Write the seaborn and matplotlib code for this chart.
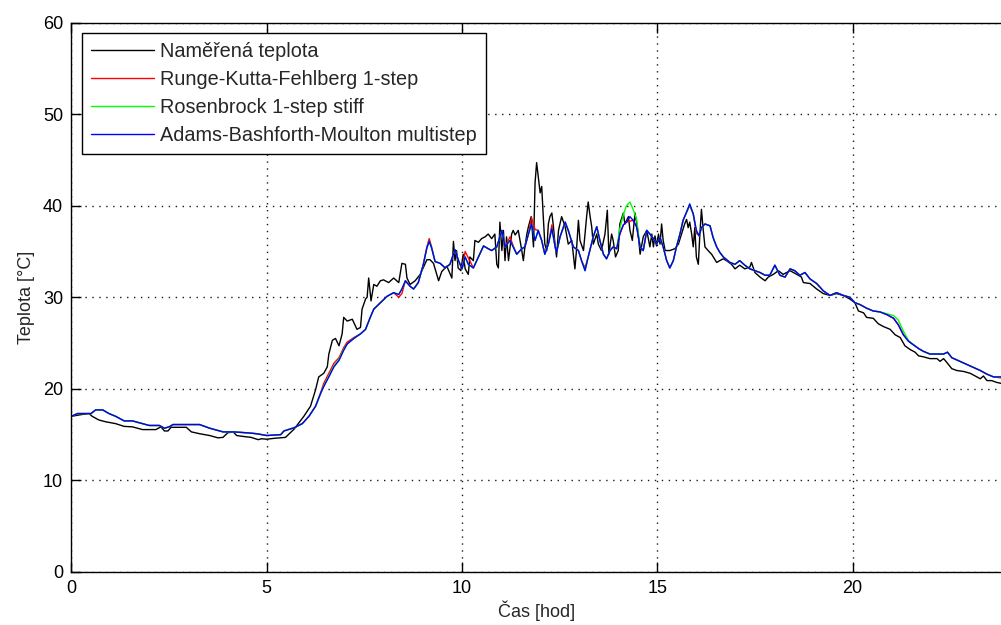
import matplotlib
matplotlib.use("Agg")
import matplotlib.pyplot as plt
import seaborn as sns
import pandas as pd

# Measured air temperature over one day
t_meas = [0.0, 0.27, 0.45, 0.53, 0.7, 0.88, 1.13, 1.35, 1.56, 1.82,
          2.16, 2.29, 2.38, 2.47, 2.55, 2.68, 2.94, 3.07, 3.28, 3.54,
          3.75, 3.88, 4.0, 4.14, 4.23, 4.4, 4.6, 4.78, 4.87, 5.0,
          5.2, 5.48, 5.7, 5.95, 6.12, 6.25, 6.33, 6.46, 6.55, 6.59,
          6.68, 6.76, 6.85, 6.93, 6.97, 7.06, 7.19, 7.31, 7.4, 7.44,
          7.53, 7.57, 7.61, 7.67, 7.74, 7.82, 7.91, 7.99, 8.12, 8.25,
          8.38, 8.46, 8.55, 8.59, 8.67, 8.8, 8.93, 9.1, 9.18, 9.27,
          9.4, 9.48, 9.61, 9.74, 9.78, 9.82, 9.86, 9.9, 9.97, 10.03,
          10.08, 10.16, 10.2, 10.29, 10.33, 10.42, 10.5, 10.59, 10.67, 10.76,
          10.84, 10.89, 10.93, 10.97, 11.02, 11.06, 11.1, 11.14, 11.19, 11.23,
          11.27, 11.31, 11.36, 11.44, 11.53, 11.57, 11.61, 11.66, 11.7, 11.77,
          11.83, 11.87, 11.91, 11.95, 12.0, 12.04, 12.08, 12.12, 12.17, 12.21,
          12.25, 12.3, 12.34, 12.38, 12.42, 12.47, 12.55, 12.64, 12.72, 12.81,
          12.89, 12.93, 12.98, 13.02, 13.11, 13.19, 13.23, 13.28, 13.32, 13.36,
          13.45, 13.49, 13.57, 13.66, 13.72, 13.76, 13.83, 13.87, 13.93, 14.0,
          14.04, 14.13, 14.17, 14.26, 14.3, 14.36, 14.43, 14.5, 14.56, 14.64,
          14.73, 14.81, 14.86, 14.9, 14.94, 14.98, 15.03, 15.07, 15.11, 15.15,
          15.2, 15.32, 15.45, 15.54, 15.62, 15.7, 15.75, 15.79, 15.83, 15.88,
          15.92, 15.96, 16.0, 16.05, 16.09, 16.13, 16.17, 16.22, 16.3, 16.39,
          16.52, 16.6, 16.69, 16.77, 16.9, 16.99, 17.11, 17.24, 17.37, 17.41,
          17.5, 17.63, 17.76, 17.84, 17.97, 18.1, 18.22, 18.4, 18.57, 18.69,
          18.74, 18.91, 19.08, 19.25, 19.42, 19.59, 19.76, 19.93, 20.06, 20.15,
          20.28, 20.36, 20.53, 20.66, 20.79, 20.96, 21.09, 21.22, 21.34, 21.47,
          21.6, 21.69, 21.81, 21.98, 22.16, 22.24, 22.33, 22.41, 22.54, 22.67,
          22.84, 23.01, 23.18, 23.27, 23.35, 23.44, 23.56, 23.69, 23.8]
temp_meas = [17.0, 17.2, 17.3, 17.0, 16.6, 16.4, 16.2, 15.9, 15.85, 15.55,
             15.55, 15.85, 15.4, 15.4, 15.8, 15.8, 15.8, 15.3, 15.1, 14.9,
             14.65, 14.7, 15.2, 15.3, 14.9, 14.8, 14.7, 14.45, 14.55, 14.5,
             14.6, 14.7, 15.6, 17.0, 18.1, 19.9, 21.3, 21.7, 22.4, 23.8,
             25.3, 25.5, 24.7, 26.0, 27.8, 27.4, 27.6, 26.5, 26.7, 28.7,
             29.8, 30.0, 32.1, 29.6, 31.4, 31.2, 31.8, 31.9, 31.6, 32.1,
             31.6, 33.7, 33.6, 32.1, 31.4, 31.8, 32.5, 34.1, 34.1, 33.7,
             31.8, 32.8, 33.4, 32.1, 36.1, 34.0, 35.1, 33.2, 32.9, 34.7,
             33.1, 32.5, 34.4, 34.0, 36.2, 36.0, 36.4, 36.6, 36.9, 36.4,
             36.9, 33.6, 33.2, 38.2, 35.1, 37.3, 34.0, 36.6, 34.0, 35.5,
             36.9, 37.3, 36.8, 37.3, 35.1, 34.0, 35.5, 36.9, 37.7, 38.8,
             35.5, 42.5, 44.7, 43.2, 41.4, 42.1, 38.8, 35.8, 35.1, 38.0,
             38.8, 39.2, 37.7, 35.8, 34.4, 37.3, 38.8, 37.7, 35.8, 36.2,
             33.1, 35.1, 38.4, 36.2, 35.1, 38.8, 40.4, 38.8, 37.7, 35.8,
             36.9, 35.8, 35.1, 36.9, 39.5, 34.7, 36.9, 36.2, 34.4, 35.1,
             38.0, 39.2, 38.0, 38.8, 37.3, 36.2, 39.2, 37.3, 34.7, 36.6,
             37.3, 35.5, 36.9, 35.5, 36.7, 35.6, 36.9, 35.8, 38.0, 36.2,
             35.1, 35.1, 35.3, 35.8, 36.9, 38.0, 38.5, 37.6, 38.2, 36.9,
             35.5, 37.6, 34.4, 33.6, 36.9, 39.6, 37.6, 35.5, 35.1, 34.7,
             33.8, 34.0, 34.2, 34.0, 33.6, 33.1, 33.5, 33.1, 33.3, 33.8,
             32.7, 32.2, 31.8, 32.2, 32.5, 32.9, 32.5, 32.9, 32.5, 32.2,
             31.6, 31.5, 30.9, 30.4, 30.2, 30.4, 30.2, 29.8, 29.4, 28.5,
             28.3, 27.8, 27.7, 27.1, 26.8, 26.5, 25.9, 25.6, 24.7, 24.3,
             24.0, 23.6, 23.5, 23.3, 23.3, 23.0, 23.3, 22.9, 22.2, 22.0,
             21.9, 21.7, 21.3, 21.1, 21.4, 20.9, 20.9, 20.7, 20.6]

# Simulated temperature from three ODE solvers (shared time grid)
t_model = [0.0, 0.15, 0.5, 0.62, 0.8, 0.96, 1.13, 1.35, 1.56, 1.82,
           1.99, 2.25, 2.38, 2.5, 2.6, 2.94, 3.28, 3.54, 3.88, 4.14,
           4.49, 4.74, 5.0, 5.36, 5.44, 5.7, 5.91, 6.08, 6.25, 6.38,
           6.46, 6.59, 6.72, 6.85, 6.97, 7.06, 7.23, 7.4, 7.53, 7.65,
           7.74, 7.91, 8.08, 8.25, 8.38, 8.46, 8.55, 8.67, 8.76, 8.88,
           9.01, 9.1, 9.16, 9.22, 9.31, 9.44, 9.57, 9.69, 9.82, 9.91,
           10.0, 10.08, 10.16, 10.29, 10.42, 10.55, 10.67, 10.76, 10.89, 11.02,
           11.1, 11.23, 11.31, 11.4, 11.53, 11.61, 11.7, 11.78, 11.87, 11.95,
           12.04, 12.12, 12.21, 12.3, 12.38, 12.42, 12.51, 12.64, 12.72, 12.85,
           12.98, 13.06, 13.15, 13.23, 13.36, 13.45, 13.53, 13.62, 13.7, 13.79,
           13.87, 13.96, 14.04, 14.13, 14.21, 14.3, 14.38, 14.47, 14.56, 14.64,
           14.73, 14.81, 14.9, 14.98, 15.07, 15.15, 15.24, 15.32, 15.41, 15.49,
           15.58, 15.66, 15.75, 15.83, 15.92, 16.0, 16.07, 16.13, 16.22, 16.35,
           16.43, 16.52, 16.6, 16.69, 16.86, 16.99, 17.11, 17.24, 17.37, 17.5,
           17.63, 17.76, 17.88, 18.01, 18.14, 18.27, 18.4, 18.52, 18.65, 18.78,
           18.91, 19.08, 19.25, 19.42, 19.59, 19.76, 19.93, 20.06, 20.19, 20.36,
           20.53, 20.7, 20.88, 21.05, 21.17, 21.3, 21.43, 21.56, 21.69, 21.81,
           21.98, 22.16, 22.33, 22.43, 22.54, 22.75, 23.01, 23.27, 23.44, 23.61,
           23.8]
temp_rkf = [17.0, 17.3, 17.3, 17.7, 17.7, 17.3, 17.0, 16.5, 16.5, 16.2,
            16.0, 16.0, 15.7, 15.85, 16.1, 16.1, 16.1, 15.7, 15.3, 15.3,
            15.2, 15.1, 14.9, 15.0, 15.4, 15.75, 16.2, 17.0, 18.1, 19.6,
            20.6, 21.7, 22.8, 23.4, 24.5, 25.1, 25.6, 26.0, 26.5, 27.8,
            28.7, 29.4, 30.1, 30.5, 30.0, 30.4, 31.8, 31.2, 30.9, 31.6,
            33.6, 35.5, 36.4, 35.5, 33.9, 33.7, 33.2, 33.6, 35.2, 34.0,
            33.1, 35.0, 34.3, 33.2, 34.4, 35.6, 35.3, 35.1, 35.5, 37.3,
            35.5, 36.6, 35.6, 34.7, 35.3, 35.5, 36.9, 38.7, 37.4, 37.3,
            36.2, 34.7, 35.8, 37.9, 35.6, 34.9, 36.6, 38.2, 37.3, 35.5,
            35.1, 34.0, 33.2, 34.4, 36.6, 37.7, 36.2, 34.7, 34.2, 35.1,
            35.5, 35.3, 36.9, 37.9, 38.2, 38.3, 38.4, 37.7, 35.5, 35.1,
            37.3, 36.9, 36.4, 35.8, 36.5, 35.5, 34.0, 33.2, 34.0, 35.5,
            36.9, 38.4, 39.3, 40.0, 39.1, 37.0, 36.7, 37.6, 38.0, 37.8,
            36.5, 35.5, 34.9, 34.4, 33.8, 33.6, 34.0, 33.5, 33.1, 32.9,
            32.7, 32.4, 32.4, 33.5, 32.4, 32.2, 33.1, 32.9, 32.4, 32.7,
            32.0, 31.5, 30.7, 30.2, 30.5, 30.2, 30.0, 29.4, 29.2, 28.8,
            28.5, 28.4, 28.1, 27.7, 27.0, 25.9, 25.2, 24.8, 24.4, 24.1,
            23.8, 23.8, 23.8, 24.0, 23.4, 23.0, 22.5, 22.0, 21.6, 21.3,
            21.2]
temp_ros = [17.0, 17.3, 17.3, 17.7, 17.7, 17.3, 17.0, 16.5, 16.5, 16.2,
            16.0, 16.0, 15.7, 15.85, 16.1, 16.1, 16.1, 15.7, 15.3, 15.3,
            15.2, 15.1, 14.9, 15.0, 15.4, 15.75, 16.2, 17.0, 18.1, 19.5,
            20.3, 21.4, 22.5, 23.2, 24.3, 24.9, 25.5, 26.0, 26.5, 27.8,
            28.7, 29.4, 30.1, 30.5, 30.3, 30.9, 31.8, 31.2, 30.9, 31.6,
            33.6, 35.4, 36.1, 35.4, 33.9, 33.7, 33.2, 33.6, 35.2, 34.0,
            33.1, 34.4, 33.6, 33.2, 34.4, 35.6, 35.3, 35.1, 35.5, 37.3,
            35.5, 36.2, 35.5, 34.7, 35.3, 35.5, 36.9, 38.0, 36.2, 37.3,
            36.2, 34.7, 35.8, 37.5, 35.6, 34.9, 36.6, 38.2, 37.3, 35.5,
            35.1, 34.0, 32.9, 34.4, 36.6, 37.7, 36.2, 34.7, 34.2, 35.1,
            35.5, 35.3, 37.5, 39.0, 40.0, 40.4, 39.6, 38.5, 35.5, 35.1,
            37.3, 36.9, 36.4, 35.8, 36.5, 35.5, 34.0, 33.2, 34.0, 35.5,
            36.9, 38.4, 39.3, 40.1, 39.1, 37.3, 36.7, 37.6, 38.0, 37.8,
            36.5, 35.5, 34.9, 34.4, 33.8, 33.6, 34.0, 33.5, 33.1, 32.9,
            32.7, 32.4, 32.4, 33.5, 32.4, 32.2, 33.1, 32.9, 32.4, 32.7,
            32.0, 31.5, 30.7, 30.2, 30.5, 30.2, 30.0, 29.4, 29.2, 28.8,
            28.5, 28.4, 28.2, 28.0, 27.5, 26.3, 25.3, 24.8, 24.4, 24.1,
            23.8, 23.8, 23.8, 24.0, 23.4, 23.0, 22.5, 22.0, 21.6, 21.3,
            21.3]
temp_abm = [17.0, 17.3, 17.3, 17.7, 17.7, 17.3, 17.0, 16.5, 16.5, 16.2,
            16.0, 16.0, 15.7, 15.85, 16.1, 16.1, 16.1, 15.7, 15.3, 15.3,
            15.2, 15.1, 14.9, 15.0, 15.4, 15.75, 16.2, 17.0, 18.1, 19.5,
            20.25, 21.3, 22.4, 23.1, 24.2, 24.9, 25.5, 26.0, 26.5, 27.8,
            28.7, 29.4, 30.1, 30.5, 30.3, 30.9, 31.8, 31.2, 30.9, 31.6,
            33.6, 35.4, 36.1, 35.4, 33.9, 33.7, 33.2, 33.6, 35.2, 34.0,
            33.1, 34.4, 33.6, 33.2, 34.4, 35.6, 35.3, 35.1, 35.5, 37.3,
            35.5, 36.2, 35.5, 34.7, 35.3, 35.5, 36.9, 38.0, 36.2, 37.3,
            36.2, 34.7, 35.8, 37.5, 35.6, 34.9, 36.6, 38.2, 37.3, 35.5,
            35.1, 34.0, 32.9, 34.4, 36.6, 37.7, 36.2, 34.7, 34.2, 35.1,
            35.5, 35.3, 36.9, 37.9, 38.2, 38.8, 38.4, 37.7, 35.5, 35.1,
            37.3, 36.9, 36.4, 35.8, 36.5, 35.5, 34.0, 33.2, 34.0, 35.5,
            36.9, 38.4, 39.3, 40.2, 39.1, 37.3, 36.7, 37.6, 38.0, 37.8,
            36.5, 35.5, 34.9, 34.4, 33.8, 33.6, 34.0, 33.5, 33.1, 32.9,
            32.7, 32.4, 32.4, 33.5, 32.4, 32.2, 33.1, 32.9, 32.4, 32.7,
            32.0, 31.5, 30.7, 30.2, 30.5, 30.2, 30.0, 29.4, 29.2, 28.8,
            28.5, 28.4, 28.1, 27.7, 27.0, 25.9, 25.2, 24.8, 24.4, 24.1,
            23.8, 23.8, 23.8, 24.0, 23.4, 23.0, 22.5, 22.0, 21.6, 21.3,
            21.3]

labels = ["Naměřená teplota", "Runge-Kutta-Fehlberg 1-step",
          "Rosenbrock 1-step stiff", "Adams-Bashforth-Moulton multistep"]
colors = ["#000000", "#ff0000", "#00ff00", "#0000ff"]
x_ticks = [0, 5, 10, 15, 20]
y_ticks = [0, 10, 20, 30, 40, 50, 60]

sns.set_style("white")
plt.rcParams["font.family"] = ["Liberation Sans", "DejaVu Sans"]

fig = plt.figure(figsize=(10.01, 6.25), dpi=100)
ax = fig.add_axes([0.0714, 0.0848, 0.9286, 0.8792])

meas = pd.DataFrame({"t": t_meas, "T": temp_meas})
model = pd.DataFrame({"t": t_model, "rkf": temp_rkf, "ros": temp_ros, "abm": temp_abm})

sns.lineplot(data=meas, x="t", y="T", ax=ax, color=colors[0], lw=1.0,
             label=labels[0], estimator=None, sort=False)
for col, lab, c in zip(["rkf", "ros", "abm"], labels[1:], colors[1:]):
    sns.lineplot(data=model, x="t", y=col, ax=ax, color=c, lw=1.0,
                 label=lab, estimator=None, sort=False)

ax.set_xlim(0, 23.8)
ax.set_ylim(0, 60)
ax.set_xticks(x_ticks)
ax.set_yticks(y_ticks)
ax.set_xlabel("Čas [hod]", fontsize=13, labelpad=2)
ax.set_ylabel("Teplota [°C]", fontsize=13, labelpad=6)

ax.grid(True, color="0.1", linestyle=(0, (1, 4)), linewidth=1.0)
for side in ["left", "bottom", "top"]:
    ax.spines[side].set_visible(True)
    ax.spines[side].set_color("black")
    ax.spines[side].set_linewidth(1.0)
ax.spines["right"].set_visible(False)
ax.tick_params(axis="both", direction="in", length=7, width=1.0,
               labelsize=13, colors="black", pad=6,
               top=True, bottom=True, left=True, right=False)

leg = ax.legend(loc="upper left", bbox_to_anchor=(0.0113, 0.981),
                borderaxespad=0, fontsize=14.3, frameon=True, fancybox=False,
                framealpha=1, edgecolor="black", handlelength=3.2,
                handletextpad=0.3, labelspacing=0.45, borderpad=0.45)
leg.get_frame().set_linewidth(1.0)

fig.savefig("out.png", dpi=100)
